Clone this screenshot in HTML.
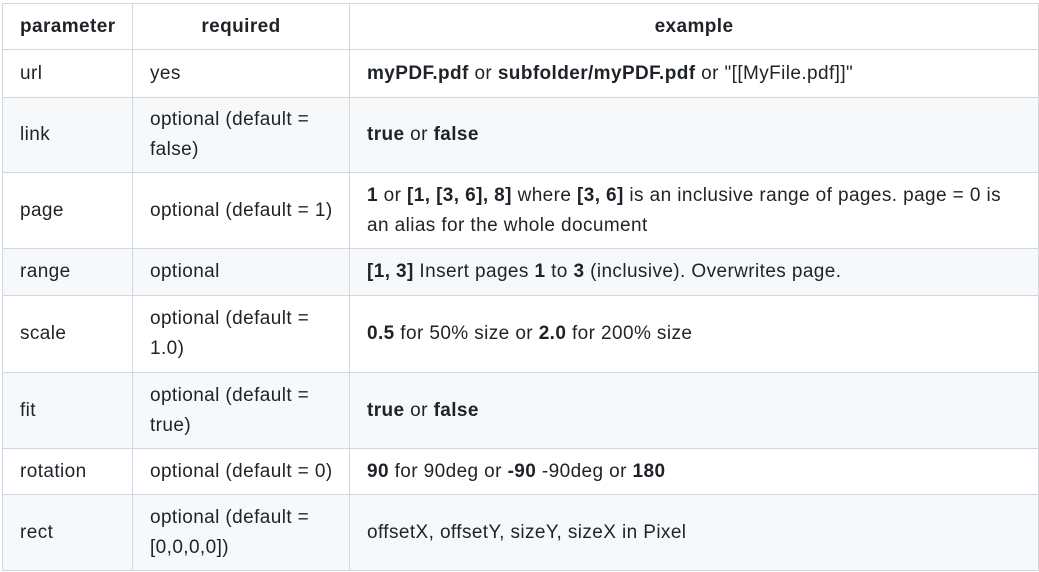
<!DOCTYPE html>
<html><head><meta charset="utf-8"><style>
body{margin:0;background:#fff;font-family:"Liberation Sans",Arial,sans-serif;font-size:19px;letter-spacing:0.4px;color:#1f2328;}
table{position:absolute;left:2px;top:3px;border-collapse:collapse;table-layout:fixed;width:1036px;}
td,th{border:1px solid #d0d7de;padding:0 17px;line-height:30px;text-align:left;vertical-align:middle;}
td:nth-child(2){white-space:nowrap;overflow:hidden;}
th{font-weight:bold;text-align:center;height:45px;}
tr:nth-child(odd) td{background:#f6f8fa;}
b{font-weight:bold}
</style></head><body>
<table>
<colgroup><col style="width:130px"><col style="width:217px"><col style="width:689px"></colgroup>
<tr style="height:46px"><th>parameter</th><th>required</th><th>example</th></tr>
<tr style="height:48px"><td>url</td><td>yes</td><td><b>myPDF.pdf</b> or <b>subfolder/myPDF.pdf</b> or "[[MyFile.pdf]]"</td></tr>
<tr style="height:75px"><td>link</td><td>optional (default =<br>false)</td><td><b>true</b> or <b>false</b></td></tr>
<tr style="height:76px"><td>page</td><td>optional (default = 1)</td><td><b>1</b> or <b>[1, [3, 6], 8]</b> where <b>[3, 6]</b> is an inclusive range of pages. page = 0 is an alias for the whole document</td></tr>
<tr style="height:47px"><td>range</td><td>optional</td><td><b>[1, 3]</b> Insert pages <b>1</b> to <b>3</b> (inclusive). Overwrites page.</td></tr>
<tr style="height:77px"><td>scale</td><td>optional (default =<br>1.0)</td><td><b>0.5</b> for 50% size or <b>2.0</b> for 200% size</td></tr>
<tr style="height:76px"><td>fit</td><td>optional (default =<br>true)</td><td><b>true</b> or <b>false</b></td></tr>
<tr style="height:46px"><td>rotation</td><td>optional (default = 0)</td><td><b>90</b> for 90deg or <b>-90</b> -90deg or <b>180</b></td></tr>
<tr style="height:76px"><td>rect</td><td>optional (default =<br>[0,0,0,0])</td><td>offsetX, offsetY, sizeY, sizeX in Pixel</td></tr>
</table>
</body></html>
